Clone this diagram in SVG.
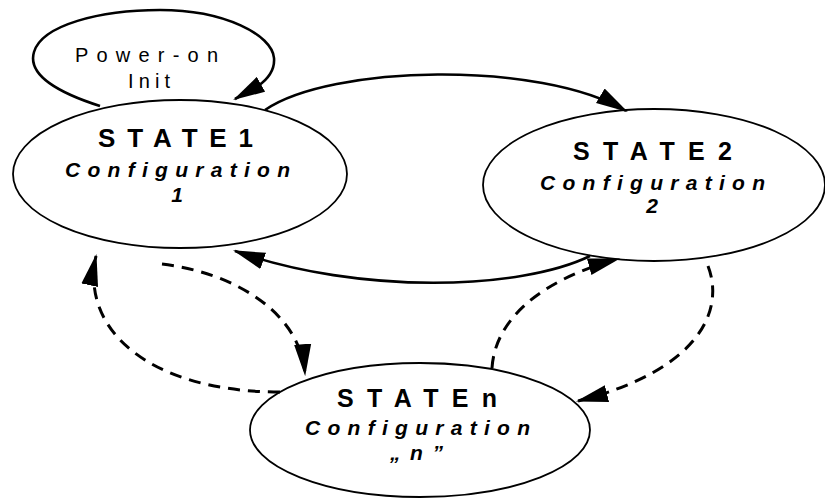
<svg xmlns="http://www.w3.org/2000/svg" width="825" height="500" viewBox="0 0 825 500">
<style>
.node{fill:#fff;stroke:#000;stroke-width:1.8}
.t{font-family:"Liberation Sans",Arial,sans-serif;fill:#000}
.st{font-weight:bold;font-size:25px}
.cf{font-weight:bold;font-style:italic;font-size:21px}
.lb{font-size:20px}
.solid{fill:none;stroke:#000;stroke-width:2.6}
.dash{fill:none;stroke:#000;stroke-width:3;stroke-dasharray:12 8}
</style>
<defs>
<marker id="ah" markerUnits="userSpaceOnUse" markerWidth="32" markerHeight="18" viewBox="0 0 30 16" refX="28" refY="8" orient="auto">
<path d="M0,0 L30,8 L0,16 z" fill="#000"/>
</marker>
</defs>
<g id="state1">
<ellipse class="node" cx="180" cy="174" rx="167" ry="74"/>
<text class="t st" x="98" y="147" textLength="155" lengthAdjust="spacing" style="font-size:26px">STATE1</text>
<text class="t cf" x="65" y="177" textLength="225" lengthAdjust="spacing">Configuration</text>
<text class="t cf" x="177" y="202" text-anchor="middle">1</text>
</g>
<g id="state2">
<ellipse class="node" cx="654" cy="185" rx="171" ry="76"/>
<text class="t st" x="573" y="160" textLength="159" lengthAdjust="spacing">STATE2</text>
<text class="t cf" x="540" y="190" textLength="225" lengthAdjust="spacing">Configuration</text>
<text class="t cf" x="652" y="213" text-anchor="middle">2</text>
</g>
<g id="staten">
<ellipse class="node" cx="420" cy="430" rx="170" ry="67"/>
<text class="t st" x="337" y="407" textLength="160" lengthAdjust="spacing">STATEn</text>
<text class="t cf" x="305" y="435" textLength="225" lengthAdjust="spacing">Configuration</text>
<text class="t cf" x="390" y="460" textLength="53" lengthAdjust="spacing">„n”</text>
</g>
<g id="connectors">
<path class="solid" d="M100,106 C50,90 28,72 34,52 C42,25 100,10 160,10 C225,10 272,35 274,58 C275,70 268,79 258,86 L235,99" marker-end="url(#ah)"/>
<path class="solid" d="M265,110 C330,65 540,60 626,111" marker-end="url(#ah)"/>
<path class="solid" d="M590,256 C520,290 360,295 235,251" marker-end="url(#ah)"/>
<path class="dash" d="M162,264 C230,272 300,310 305,374" marker-end="url(#ah)"/>
<path class="dash" d="M280,392 C150,392 80,330 96,256" marker-end="url(#ah)"/>
<path class="dash" d="M492,368 C495,320 540,280 618,259" marker-end="url(#ah)"/>
<path class="dash" d="M708,266 C725,310 700,370 578,401" marker-end="url(#ah)"/>
<text class="t lb" x="75" y="62" textLength="143" lengthAdjust="spacing">Power-on</text>
<text class="t lb" x="128" y="88" textLength="42" lengthAdjust="spacing">Init</text>
</g>
</svg>
